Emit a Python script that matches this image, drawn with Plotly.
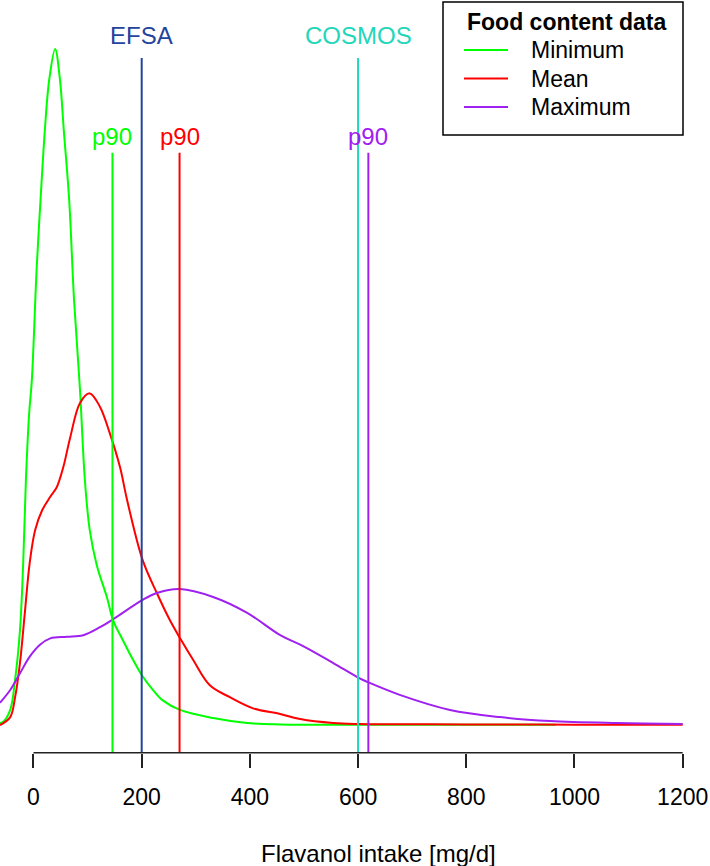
import plotly.graph_objects as go

# density curves (x in mg/d, y = density)
min_x = [-62, -56, -43, -34, -25, -19, -14, -8, -3, 6, 13, 21, 29, 40, 49, 56, 66, 75, 86, 95,
         104, 117, 136, 147, 165, 184, 200, 221, 239, 271, 332, 395, 456, 600, 800, 965]
min_y = [0.000025, 0.00004, 0.00019, 0.00057, 0.00119, 0.00204, 0.00308, 0.00392, 0.00434,
         0.00576, 0.0066, 0.00748, 0.00811, 0.0085, 0.00811, 0.00748, 0.0066, 0.00534, 0.00421,
         0.00308, 0.00245, 0.00201, 0.0016, 0.00132, 0.00107, 0.00082, 0.00063, 0.00044,
         0.00031, 0.00019, 0.000088, 0.000025, 0.000008, 0.000005, 0.000004, 0.000004]

mean_x = [-62, -43, -34, -25, -16, -7, 3, 16, 31, 43, 55, 68, 86, 104, 123, 141, 160, 173,
          202, 228, 252, 271, 295, 326, 363, 406, 456, 493, 554, 602, 800, 1000, 1200]
mean_y = [0.0, 0.0001, 0.00035, 0.00078, 0.00141, 0.00204, 0.00245, 0.0027, 0.00287, 0.00299,
          0.00324, 0.00362, 0.00405, 0.00417, 0.004, 0.00367, 0.00324, 0.00283, 0.00207,
          0.00166, 0.00132, 0.00109, 0.00082, 0.0005, 0.00035, 0.00021, 0.00014, 0.000075,
          0.000025, 0.000013, 0.000008, 0.000005, 0.000003]

max_x = [-62, -43, -25, -7, 12, 31, 62, 92, 123, 147, 201, 228, 271, 332, 395, 456, 493, 554,
         602, 618, 677, 770, 862, 955, 1078, 1200]
max_y = [0.00028, 0.00044, 0.00065, 0.00086, 0.00101, 0.00109, 0.00111, 0.00113, 0.00123,
         0.00133, 0.00157, 0.00166, 0.00171, 0.00161, 0.00141, 0.00113, 0.00101, 0.00078,
         0.00059, 0.00054, 0.00038, 0.00019, 0.0001, 0.00005, 0.000025, 0.000013]

series_names = ["Minimum", "Mean", "Maximum"]
series_colors = ["#00FF00", "#FF0000", "#A020F0"]
p90_values = [146, 270, 619]

ref_names = ["EFSA", "COSMOS"]
ref_values = [200, 600]
ref_colors = ["#24439C", "#22D6BA"]

tick_vals = [0, 200, 400, 600, 800, 1000, 1200]

FONT = "Liberation Sans, Arial, sans-serif"
W, H = 710, 866


def px(x):
    return x / W


def py(y):
    # pixel from top -> paper fraction
    return (H - y) / H


fig = go.Figure()
for name, xs, ys, col in zip(series_names, [min_x, mean_x, max_x], [min_y, mean_y, max_y], series_colors):
    fig.add_trace(go.Scatter(x=xs, y=ys, name=name, mode="lines", showlegend=False,
                             line=dict(color=col, width=2, shape="spline", smoothing=1.0)))

shapes = []
annotations = []

# p90 markers
for val, col in zip(p90_values, series_colors):
    shapes.append(dict(type="line", xref="x", yref="y domain", x0=val, x1=val, y0=0, y1=0.797,
                       line=dict(color=col, width=2)))
    annotations.append(dict(text="p90", x=val, xref="x", y=0.819, yref="y domain",
                            xanchor="center", yanchor="middle",
                            showarrow=False, font=dict(color=col, size=24, family=FONT)))

# reference intakes
for name, val, col in zip(ref_names, ref_values, ref_colors):
    shapes.append(dict(type="line", xref="x", yref="y domain", x0=val, x1=val, y0=0, y1=0.923,
                       line=dict(color=col, width=2)))
    annotations.append(dict(text=name, x=val, xref="x", y=0.9535, yref="y domain",
                            xanchor="center", yanchor="middle",
                            showarrow=False, font=dict(color=col, size=24, family=FONT)))

# axis line only over the tick range (R style)
shapes.append(dict(type="line", xref="x", yref="y domain", x0=tick_vals[0], x1=tick_vals[-1],
                   y0=0, y1=0, line=dict(color="#222222", width=1.5)))

annotations.append(dict(text="Flavanol intake [mg/d]", x=px(378.5), xref="paper", y=py(853),
                        yref="paper", xanchor="center", yanchor="middle", showarrow=False,
                        font=dict(size=24, color="black", family=FONT)))

# legend box drawn R style
shapes.append(dict(type="rect", xref="paper", yref="paper", x0=px(443), x1=px(683),
                   y0=py(135), y1=py(2), line=dict(color="black", width=1.5), fillcolor="white"))
annotations.append(dict(text="<b>Food content data</b>", x=px(567), xref="paper", y=py(22),
                        yref="paper", xanchor="center", yanchor="middle", showarrow=False,
                        font=dict(size=23, family=FONT)))
for i, (name, col) in enumerate(zip(series_names, series_colors)):
    yy = 50 + i * 28.5
    shapes.append(dict(type="line", xref="paper", yref="paper", x0=px(464), x1=px(508),
                       y0=py(yy), y1=py(yy), line=dict(color=col, width=2)))
    annotations.append(dict(text=name, x=px(529), xref="paper", xanchor="left", y=py(yy),
                            yref="paper", yanchor="middle", showarrow=False,
                            font=dict(size=23, family=FONT)))

fig.update_layout(
    width=W, height=H,
    margin=dict(l=0, r=0, t=0, b=0),
    paper_bgcolor="white", plot_bgcolor="white",
    font=dict(family=FONT, size=23, color="black"),
    shapes=shapes,
    annotations=annotations,
    showlegend=False,
    xaxis=dict(range=[-61.9, 1250.5], domain=[0, 1], showgrid=False, zeroline=False,
               showline=False, ticks="outside", ticklen=14, tickwidth=1.5, tickcolor="#222222",
               tickvals=tick_vals, tickfont=dict(size=23, color="black"), ticklabelstandoff=10,
               automargin=False),
    yaxis=dict(range=[-0.000348, 0.009116], domain=[0.1308, 1], visible=False),
)

fig.write_html("out.html", config={"displayModeBar": False},
               post_script="document.body.style.margin='0';")
